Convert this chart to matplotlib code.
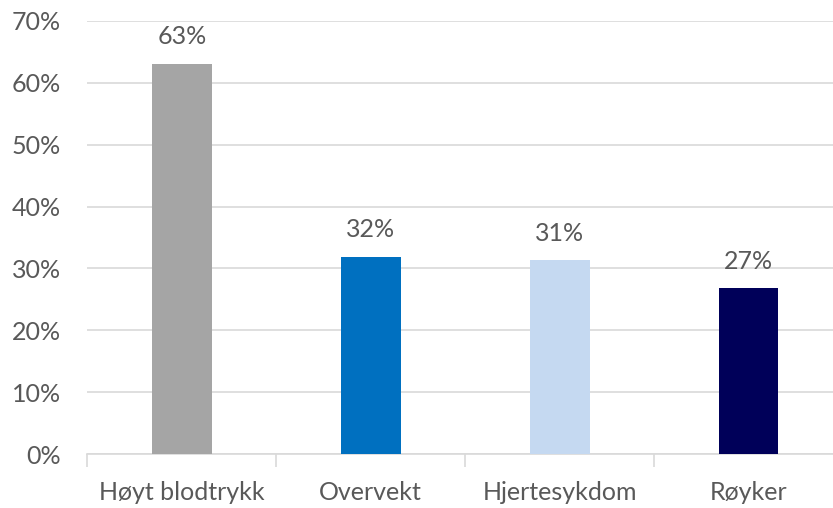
import matplotlib.pyplot as plt
from matplotlib.ticker import PercentFormatter, FixedLocator

categories = ["Høyt blodtrykk", "Overvekt", "Hjertesykdom", "Røyker"]
values = [63.1, 31.9, 31.3, 26.8]
labels = ["63%", "32%", "31%", "27%"]
colors = ["#a5a5a5", "#0070c0", "#c5d9f1", "#000059"]

plt.rcParams["font.family"] = ["Lato", "DejaVu Sans"]
text_color = "#595959"

fig = plt.figure(figsize=(8.33, 5.08), dpi=100)
ax = fig.add_axes([0.105, 0.106, 0.907, 0.853])

x = range(len(categories))
bars = ax.bar(x, values, width=0.317, color=colors, zorder=3)
for b, lab in zip(bars, labels):
    ax.text(b.get_x() + b.get_width() / 2, b.get_height() + 2.5, lab,
            ha="center", va="bottom", fontsize=18, color=text_color)

ax.set_ylim(0, 70)
ax.set_xlim(-0.5, 3.5)
ax.set_yticks(range(0, 71, 10))
ax.yaxis.set_major_formatter(PercentFormatter(decimals=0))
ax.grid(axis="y", color="#d9d9d9", linewidth=1.2, zorder=0)

ax.set_xticks(list(x))
ax.set_xticklabels(categories)
ax.xaxis.set_minor_locator(FixedLocator([-0.5, 0.5, 1.5, 2.5, 3.5]))
ax.tick_params(axis="x", which="major", length=0, pad=19, labelsize=18, labelcolor=text_color)
ax.tick_params(axis="x", which="minor", length=9, color="#d9d9d9", width=1.2)
ax.tick_params(axis="y", length=0, pad=19, labelsize=18, labelcolor=text_color)

for s in ["top", "right", "left"]:
    ax.spines[s].set_visible(False)
ax.spines["bottom"].set_color("#d9d9d9")
ax.spines["bottom"].set_linewidth(1.2)

fig.savefig("out.png", dpi=100)
